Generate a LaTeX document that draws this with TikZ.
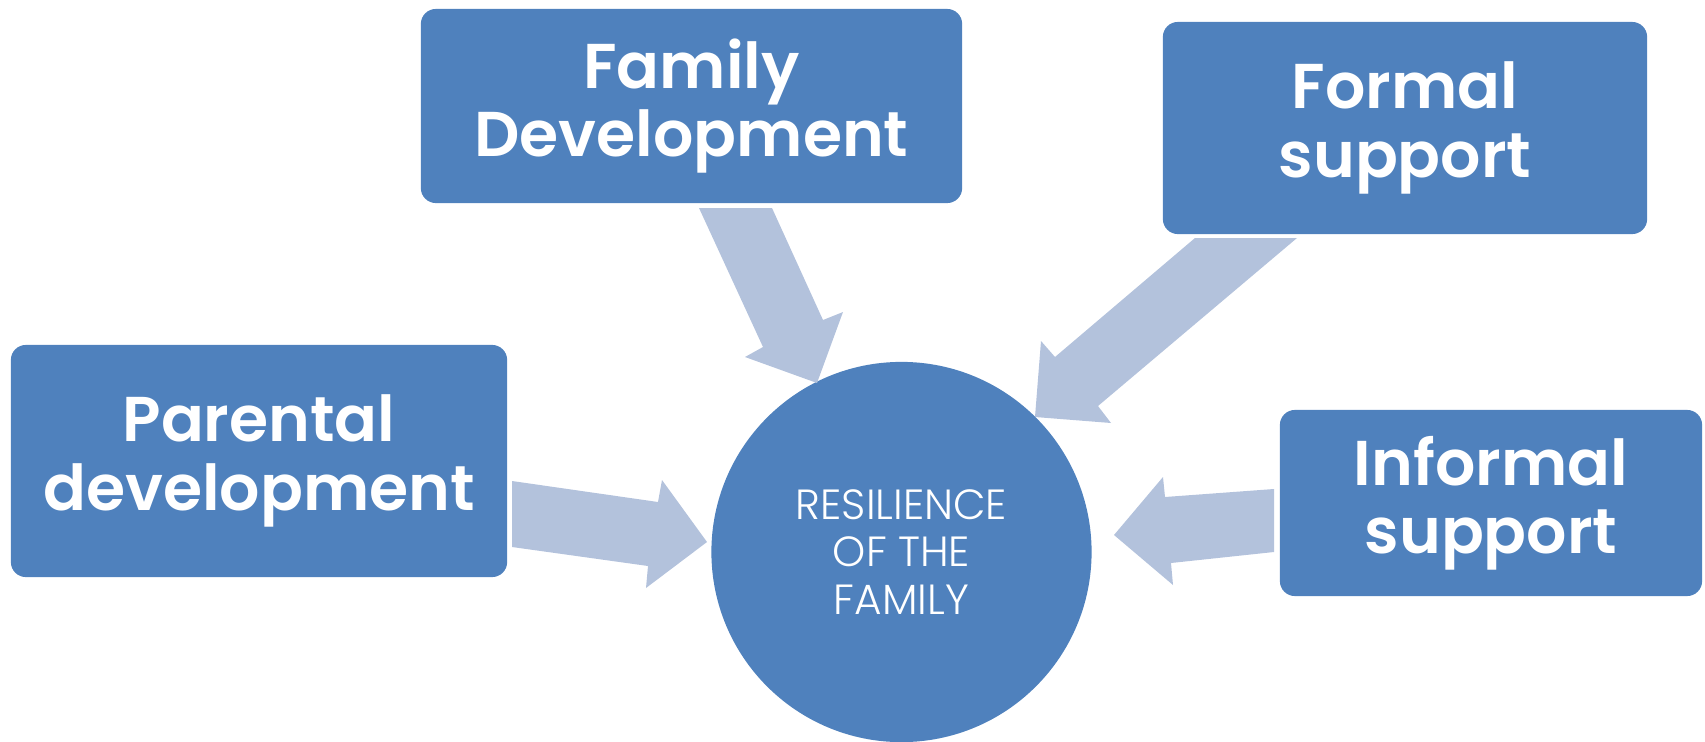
\documentclass[tikz,border=0pt]{standalone}
\usepackage{fontspec}
\setmainfont{Poppins}[BoldFont={Poppins SemiBold}]
\newfontfamily\thinfont{Poppins Light}
\definecolor{boxblue}{HTML}{4F81BD}
\definecolor{flowblue}{HTML}{B3C2DC}

\begin{document}
\begin{tikzpicture}[x=.01cm,y=-.01cm,
  factor/.style={fill=boxblue,rounded corners=.15cm,text=white,align=center,
    font=\fontsize{18}{19.5}\selectfont\bfseries,inner sep=0pt},
  core/.style={circle,fill=boxblue,text=white,align=center,minimum size=3.8cm,
    font=\thinfont\fontsize{12}{13.4}\selectfont},
  flow/.style={fill=flowblue}]
\useasboundingbox (0,0) rectangle (1705,742);

% the four factors around the centre
\node[factor,minimum width=5.41cm,minimum height=1.94cm] (family) at (691.5,106) {Family\\Development};
\node[factor,minimum width=4.84cm,minimum height=2.12cm] (formal) at (1405,128) {Formal\\support};
\node[factor,minimum width=4.96cm,minimum height=2.32cm] (parental) at (259,461) {Parental\\development};
\node[factor,minimum width=4.22cm,minimum height=1.86cm] (informal) at (1491,503) {Informal\\support};

\node[core] (resilience) at (901.5,552) {RESILIENCE\\OF THE\\FAMILY};

% block arrows converging on the circle
\fill[flow] (699,208) -- (772,208) -- (823,320) -- (843,312) -- (817,383)
  -- (745,357) -- (763,347) -- cycle;
\fill[flow] (1195,238) -- (1297,238) -- (1098,406) -- (1111,423) -- (1035,417)
  -- (1041,341) -- (1055,357) -- cycle;
\fill[flow] (512,481) -- (658,502) -- (662,480) -- (707,542) -- (646,588)
  -- (648,566) -- (512,547) -- cycle;
\fill[flow] (1274,489) -- (1165,497) -- (1163,477) -- (1114,535) -- (1173,585)
  -- (1171,563) -- (1274,552) -- cycle;
\end{tikzpicture}
\end{document}
